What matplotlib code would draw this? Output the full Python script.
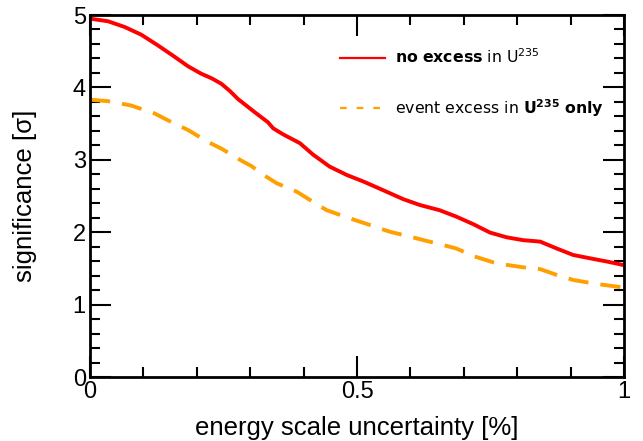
import matplotlib
matplotlib.use("Agg")
import matplotlib.pyplot as plt
from matplotlib.ticker import MultipleLocator, FuncFormatter
from matplotlib.lines import Line2D

# "no excess in U235" (red, solid)
x_red = [0.0, 0.034, 0.065, 0.096, 0.127, 0.159, 0.184, 0.208, 0.228, 0.246, 0.262, 0.277, 0.308,
         0.333, 0.343, 0.362, 0.393, 0.418, 0.449, 0.481, 0.512, 0.549, 0.587, 0.618,
         0.655, 0.686, 0.718, 0.749, 0.78, 0.811, 0.843, 0.874, 0.905, 0.936, 0.968, 1.0]
y_red = [4.95, 4.913, 4.834, 4.728, 4.581, 4.42, 4.29, 4.19, 4.125, 4.05, 3.95, 3.84, 3.66,
         3.52, 3.435, 3.35, 3.23, 3.07, 2.905, 2.79, 2.70, 2.58, 2.455, 2.375,
         2.303, 2.215, 2.11, 1.995, 1.93, 1.89, 1.87, 1.775, 1.685, 1.64, 1.595, 1.545]

# "event excess in U235 only" (orange, dashed)
x_org = [0.0, 0.034, 0.077, 0.121, 0.146, 0.184, 0.221, 0.246, 0.283, 0.302, 0.325,
         0.35, 0.387, 0.412, 0.443, 0.481, 0.524, 0.562, 0.599, 0.63, 0.655, 0.686,
         0.718, 0.761, 0.811, 0.843, 0.874, 0.905, 0.949, 1.0]
y_org = [3.83, 3.81, 3.75, 3.64, 3.545, 3.41, 3.245, 3.155, 2.99, 2.915, 2.79,
         2.675, 2.56, 2.445, 2.305, 2.205, 2.10, 2.005, 1.94, 1.88, 1.835, 1.775,
         1.67, 1.57, 1.515, 1.49, 1.41, 1.34, 1.285, 1.235]

label_red = r"$\mathbf{no\ excess}$ in U$^{235}$"
label_org = r"event excess in $\mathbf{U^{235}}$ $\mathbf{only}$"

RED = "#ff0000"
ORANGE = "#ffa000"

fig = plt.figure(figsize=(6.43, 4.41), dpi=100)
ax = fig.add_axes([90/643, 1-377/441, 534/643, 362/441])

ax.plot(x_red, y_red, color=RED, lw=2.8, solid_joinstyle="round")
ax.plot(x_org, y_org, color=ORANGE, lw=2.8, dashes=(5.2, 3.1), dash_joinstyle="round")

ax.set_xlim(0, 1)
ax.set_ylim(0, 5)
ax.xaxis.set_major_locator(MultipleLocator(0.5))
ax.xaxis.set_minor_locator(MultipleLocator(0.1))
ax.yaxis.set_major_locator(MultipleLocator(1))
ax.yaxis.set_minor_locator(MultipleLocator(0.2))
ax.xaxis.set_major_formatter(FuncFormatter(lambda v, p: f"{v:g}"))
ax.yaxis.set_major_formatter(FuncFormatter(lambda v, p: f"{v:g}"))
ax.tick_params(which="both", direction="in", top=True, right=True, width=1.5,
               labelsize=17)
ax.tick_params(axis="x", pad=3)
ax.tick_params(axis="y", pad=3)
ax.tick_params(which="major", length=15)
ax.tick_params(which="minor", length=7)
for lab in ax.get_xticklabels() + ax.get_yticklabels():
    lab.set_family("Liberation Sans")
for s in ax.spines.values():
    s.set_linewidth(2)

ax.set_xlabel("energy scale uncertainty [%]", fontsize=18.5, family="Liberation Sans", labelpad=9)
ax.set_ylabel("significance [σ]", fontsize=18.5, family="Liberation Sans", labelpad=26)

handles = [Line2D([], [], color=RED, lw=1.6),
           Line2D([], [], color=ORANGE, lw=1.6, dashes=(3, 4.5))]
leg = ax.legend(handles, [label_red, label_org], loc="upper left", frameon=False,
                fontsize=11.3, handlelength=2.9, labelspacing=1.95, handletextpad=0.6,
                borderpad=0, borderaxespad=0, bbox_to_anchor=(0.468, 0.91))

fig.savefig("out.png", dpi=100)
